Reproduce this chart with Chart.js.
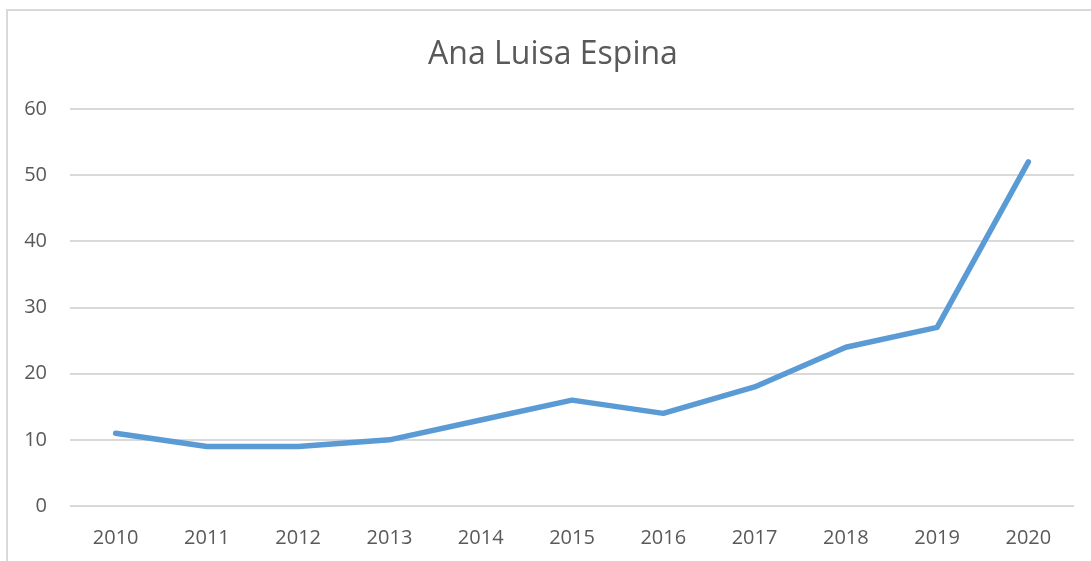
<!DOCTYPE html>
<html>
<head>
<meta charset="utf-8">
<script src="https://cdn.jsdelivr.net/npm/chart.js@4"></script>
<style>
  html, body { margin: 0; padding: 0; background: #fff; overflow: hidden; }
  #frame { position: absolute; left: 6px; top: 9px; width: 1100px; height: 570px; border: 2px solid #d9d9d9; box-sizing: border-box; }
  #wrap { position: absolute; left: 0; top: 0; width: 1091px; height: 561px; }
</style>
</head>
<body>
<div id="frame"></div>
<div id="wrap"><canvas id="myChart" width="1091" height="561"></canvas></div>
<script>
const years = ['2010', '2011', '2012', '2013', '2014', '2015', '2016', '2017', '2018', '2019', '2020'];
const values = [11, 9, 9, 10, 13, 16, 14, 18, 24, 27, 52];
const yTicks = [0, 10, 20, 30, 40, 50, 60];

const textColor = '#595959';
const fontFamily = '"Open Sans", "Liberation Sans", sans-serif';

const ctx = document.getElementById('myChart');

// the title sits centred on the frame, a bit right of the canvas centre
const shiftTitle = {
  id: 'shiftTitle',
  afterLayout(chart) {
    const t = chart.titleBlock;
    if (t) { t.left = 32; }
  }
};

new Chart(ctx, {
  type: 'line',
  data: {
    labels: years,
    datasets: [
      {
        label: 'Ana Luisa Espina',
        data: values,
        borderColor: '#5B9BD5',
        backgroundColor: '#5B9BD5',
        borderWidth: 5.5,
        borderCapStyle: 'round',
        borderJoinStyle: 'round',
        pointRadius: 0,
        tension: 0
      }
    ]
  },
  options: {
    responsive: false,
    animation: false,
    layout: {
      padding: { left: 0, right: 17, top: 0, bottom: 0 }
    },
    plugins: {
      legend: { display: false },
      tooltip: { enabled: false },
      title: {
        display: true,
        text: 'Ana Luisa Espina',
        color: textColor,
        font: { family: fontFamily, size: 32, weight: 'normal', lineHeight: 1.2 },
        padding: { top: 36, bottom: 34.6 }
      }
    },
    scales: {
      x: {
        offset: true,
        grid: { display: false, drawTicks: false },
        border: { display: false },
        ticks: {
          color: textColor,
          font: { family: fontFamily, size: 20 },
          padding: 20,
          maxRotation: 0
        },
        afterFit: (scale) => { scale.height = 55; }
      },
      y: {
        min: 0,
        max: 60,
        afterBuildTicks: (scale) => { scale.ticks = yTicks.map(v => ({ value: v })); },
        grid: { color: '#d9d9d9', lineWidth: 2, drawTicks: false },
        border: { display: false },
        ticks: {
          color: textColor,
          font: { family: fontFamily, size: 20 },
          padding: 23
        },
        afterFit: (scale) => { scale.width = 70; }
      }
    }
  },
  plugins: [shiftTitle]
});
</script>
</body>
</html>
